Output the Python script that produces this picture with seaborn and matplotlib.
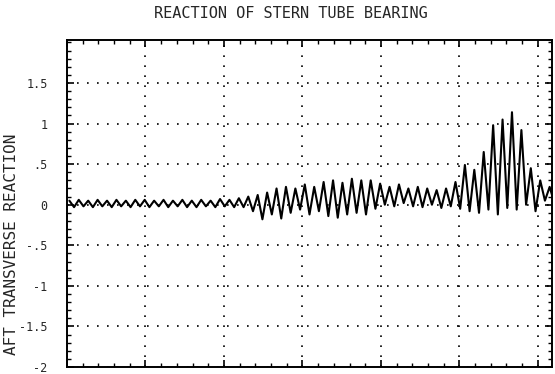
import numpy as np
import pandas as pd
import matplotlib
matplotlib.use("Agg")
import matplotlib.pyplot as plt
import seaborn as sns
from matplotlib.ticker import MultipleLocator

# ---- data: alternating peaks / troughs of the bearing reaction trace ----
peaks = [0.05, 0.06, 0.05, 0.06, 0.05, 0.06, 0.05, 0.06, 0.06, 0.05,
         0.06, 0.05, 0.06, 0.05, 0.06, 0.05, 0.07, 0.06, 0.08, 0.10,
         0.12, 0.15, 0.20, 0.22, 0.20, 0.25, 0.22, 0.28, 0.30, 0.27,
         0.32, 0.30, 0.30, 0.26, 0.22, 0.25, 0.20, 0.22, 0.20, 0.18,
         0.20, 0.28, 0.49, 0.43, 0.65, 0.98, 1.05, 1.14, 0.92, 0.45,
         0.30, 0.22, 0.20]
troughs = [-0.03, -0.02, -0.03, -0.02, -0.03, -0.02, -0.03, -0.02, -0.03, -0.02,
           -0.03, -0.02, -0.03, -0.03, -0.02, -0.03, -0.02, -0.03, -0.03, -0.08,
           -0.18, -0.12, -0.17, -0.10, -0.06, -0.12, -0.08, -0.14, -0.16, -0.12,
           -0.10, -0.12, -0.05, 0.00, -0.02, 0.02, -0.02, -0.03, 0.00, -0.04,
           -0.02, -0.05, -0.08, -0.10, -0.06, -0.12, -0.04, -0.06, 0.00, -0.08,
           0.05, 0.02]
half_period = 0.06  # time step between successive extrema

title = "REACTION OF STERN TUBE BEARING"
ylabel = "AFT TRANSVERSE REACTION"
ytick_vals = [-2, -1.5, -1, -0.5, 0, 0.5, 1, 1.5]
ytick_text = ["-2", "-1.5", "-1", "-.5", "0", ".5", "1", "1.5"]

values = []
for i in range(len(peaks)):
    values.append(peaks[i])
    if i < len(troughs):
        values.append(troughs[i])
t = 0.03 + half_period * np.arange(len(values))
df = pd.DataFrame({"t": t, "reaction": values})

sns.set_style("white")
plt.rcParams["font.family"] = ["DejaVu Sans Mono", "DejaVu Sans"]

fig = plt.figure(figsize=(5.55, 3.74), dpi=100)
ax = fig.add_axes([67 / 555, 1 - 367 / 374, (552 - 67) / 555, (367 - 40) / 374])

sns.lineplot(data=df, x="t", y="reaction", color="black", linewidth=1.5, ax=ax)
for ln in ax.get_lines():
    ln.set_solid_joinstyle("round")

ax.set_xlim(0, 6.18)
ax.set_ylim(-2, 2.03)
ax.xaxis.set_major_locator(MultipleLocator(1))
ax.xaxis.set_minor_locator(MultipleLocator(0.2))
ax.set_yticks(ytick_vals)
ax.set_yticklabels(ytick_text)
ax.yaxis.set_minor_locator(MultipleLocator(0.1))
ax.set_xticklabels([])
ax.set_xlabel("")
ax.set_ylabel(ylabel, fontsize=11.5)
ax.yaxis.set_label_coords(-0.098, 0.376)

ax.tick_params(which="both", direction="in", top=True, right=True,
               bottom=True, left=True, color="black")
ax.tick_params(which="major", length=5, width=1.2)
ax.tick_params(which="minor", length=3, width=1.0)
ax.tick_params(axis="y", which="major", labelsize=8.5, pad=14)

for s in ax.spines.values():
    s.set_color("black")
    s.set_linewidth(1.4)

ax.grid(True, which="major", color="black", linewidth=1.2,
        linestyle=(0, (1, 5)))
ax.set_axisbelow(True)

fig.text(291 / 555, 1 - 14 / 374, title, ha="center", va="center",
         fontsize=11)

fig.savefig("out.png", dpi=100, facecolor="white")
